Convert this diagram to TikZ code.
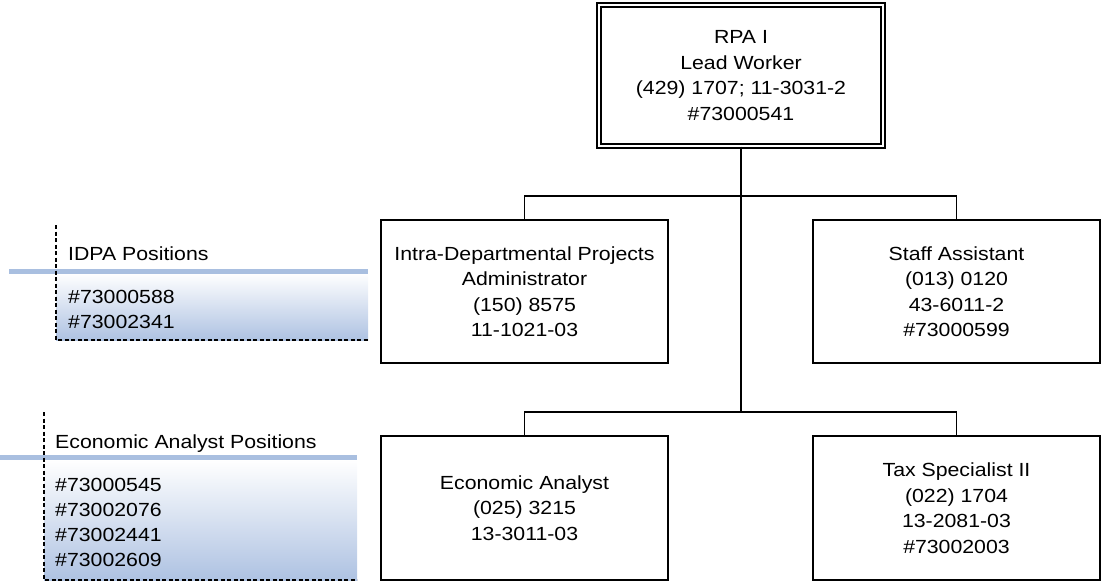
\documentclass[tikz,border=0pt]{standalone}
\usepackage{fontspec}
\setmainfont{Liberation Sans}[FakeStretch=1.12]
\begin{document}
\definecolor{legendblue}{HTML}{A9BFE0}
\definecolor{shadeblue}{HTML}{AEC2E2}
\begin{tikzpicture}[x=1pt,y=-1pt,
  every node/.style={font=\fontsize{19}{25.5}\selectfont},
  posbox/.style={draw=black, line width=1.7pt, rectangle, align=center,
    minimum width=287pt, minimum height=143pt, inner sep=0pt},
  headbox/.style={draw=black, line width=1.3pt, double=white, double distance=2.7pt,
    rectangle, align=center, minimum width=284pt, minimum height=141pt, inner sep=0pt},
  link/.style={draw=black, line width=1.7pt},
  legline/.style={draw=black, line width=1.2pt, dash pattern=on 4pt off 2.5pt},
  legbar/.style={draw=legendblue, line width=5pt},
  legtext/.style={anchor=base west, inner sep=0pt}]
\useasboundingbox (0,0) rectangle (1101,582);

% organisation boxes
\node[headbox] (rpa) at (741,75.5) {RPA I\\Lead Worker\\(429) 1707; 11-3031-2\\\#73000541};
\node[posbox] (idpa) at (524.5,291.5) {Intra-Departmental Projects\\Administrator\\(150) 8575\\11-1021-03};
\node[posbox] (staff) at (956.5,291.5) {Staff Assistant\\(013) 0120\\43-6011-2\\\#73000599};
\node[posbox, minimum height=144pt] (econ) at (524.5,508) {Economic Analyst\\(025) 3215\\13-3011-03};
\node[posbox, minimum height=144pt] (tax) at (956.5,508) {Tax Specialist II\\(022) 1704\\13-2081-03\\\#73002003};

% reporting lines
\coordinate (upper) at (741,196);
\coordinate (lower) at (741,412);
\draw[link] (rpa.south) -- (lower);
\draw[link] (idpa.north) |- (upper) -| (staff.north);
\draw[link] (econ.north) |- (lower) -| (tax.north);

% IDPA positions legend
\shade[top color=white, bottom color=shadeblue] (56,273) rectangle (368,340);
\draw[legbar] (9,271) -- (368,271);
\draw[legline] (56,225) -- (56,340) -- (368,340);
\node[legtext] (idpatitle) at (68,260) {IDPA Positions};
\node[legtext] (idpa1) at (68,303) {\#73000588};
\node[legtext] (idpa2) at (68,328) {\#73002341};

% economic analyst positions legend
\shade[top color=white, bottom color=shadeblue] (44,460) rectangle (357,580);
\draw[legbar] (0,457) -- (357,457);
\draw[legline] (44,412) -- (44,580) -- (357,580);
\node[legtext] (econtitle) at (55,448) {Economic Analyst Positions};
\node[legtext] (econ1) at (55,491) {\#73000545};
\node[legtext] (econ2) at (55,516) {\#73002076};
\node[legtext] (econ3) at (55,541) {\#73002441};
\node[legtext] (econ4) at (55,566) {\#73002609};
\end{tikzpicture}
\end{document}
